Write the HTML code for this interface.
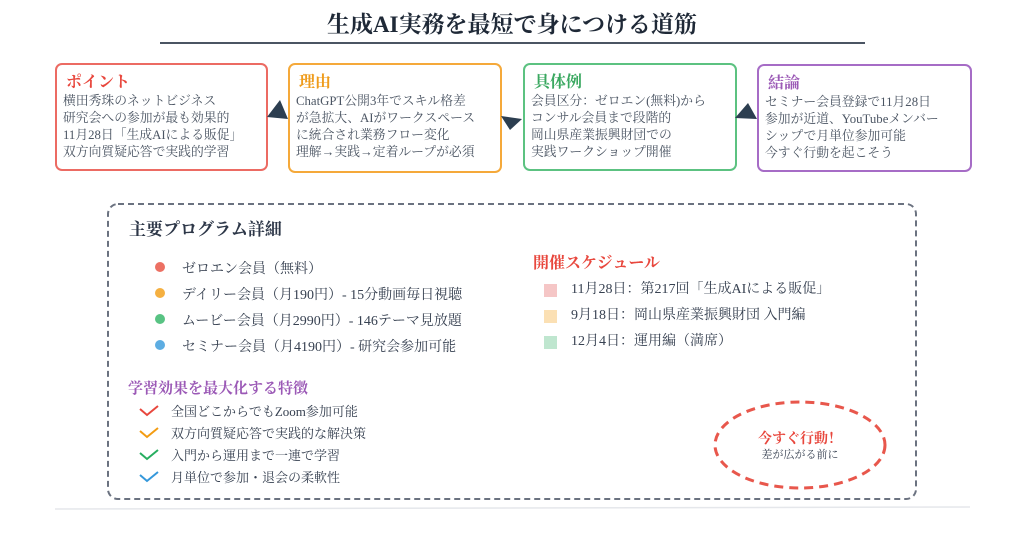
<!DOCTYPE html>
<html><head><meta charset="utf-8"><style>
body{margin:0;width:1024px;height:533px;background:#fff;position:relative;overflow:hidden;font-family:"Liberation Serif","Noto Serif CJK SC",serif;color:#374151}
.a{position:absolute;white-space:nowrap}
.box{position:absolute;border:2px solid;border-radius:7px;background:#fff}
.box .t{position:absolute;left:9px;top:4px;font-size:16px;font-weight:bold}
.box .b{position:absolute;left:6px;top:28px;font-size:12.8px;line-height:17px;color:#4b5563}
.dot{position:absolute;width:10px;height:10px;border-radius:50%}
.sq{position:absolute;width:13px;height:13px}
</style></head><body>
<div class="a" style="left:0;width:1024px;text-align:center;top:6px;font-size:23px;font-weight:bold;color:#1f2937">生成AI実務を最短で身につける道筋</div>
<div class="a" style="left:160px;top:42px;width:705px;height:2px;background:#4b5563"></div>

<div class="box" style="left:55px;top:63px;width:209px;height:104px;border-color:#ec6b63"><div class="t" style="color:#e8473d">ポイント</div><div class="b">横田秀珠のネットビジネス<br>研究会への参加が最も効果的<br>11月28日「生成AIによる販促」<br>双方向質疑応答で実践的学習</div></div>
<div class="box" style="left:288px;top:63px;width:210px;height:106px;border-color:#f5a93a"><div class="t" style="color:#ef9c1c">理由</div><div class="b">ChatGPT公開3年でスキル格差<br>が急拡大、AIがワークスペース<br>に統合され業務フロー変化<br>理解→実践→定着ループが必須</div></div>
<div class="box" style="left:523px;top:63px;width:210px;height:104px;border-color:#5cc281"><div class="t" style="color:#3aa860">具体例</div><div class="b">会員区分：ゼロエン(無料)から<br>コンサル会員まで段階的<br>岡山県産業振興財団での<br>実践ワークショップ開催</div></div>
<div class="box" style="left:757px;top:64px;width:211px;height:104px;border-color:#a66cc6"><div class="t" style="color:#9b59b6">結論</div><div class="b">セミナー会員登録で11月28日<br>参加が近道、YouTubeメンバー<br>シップで月単位参加可能<br>今すぐ行動を起こそう</div></div>

<svg class="a" style="left:0;top:0" width="1024" height="533">
<polygon points="267,117 288,119 280,100" fill="#2c3e50"/>
<polygon points="501,116 522,119 510,130" fill="#2c3e50"/>
<polygon points="735,118 757,119 748,103" fill="#2c3e50"/>
<rect x="108" y="204" width="808" height="295" rx="10" fill="none" stroke="#6b7280" stroke-width="2" stroke-dasharray="6,4"/>
<ellipse cx="800" cy="445" rx="85" ry="43" fill="none" stroke="#e8574c" stroke-width="3" stroke-dasharray="9,6"/>
<line x1="55" y1="509" x2="970" y2="507" stroke="#e5e7eb" stroke-width="1.5"/>
<g fill="none" stroke-width="2">
<polyline points="140,409 147,415 158,406" stroke="#e8473d"/>
<polyline points="140,431 147,437 158,428" stroke="#f39c12"/>
<polyline points="140,453 147,459 158,450" stroke="#27ae60"/>
<polyline points="140,475 147,481 158,472" stroke="#3498db"/>
</g>
</svg>

<div class="a" style="left:129px;top:215px;font-size:17px;font-weight:bold;color:#2d3748">主要プログラム詳細</div>
<div class="dot" style="left:155px;top:262px;background:#ec7063"></div>
<div class="dot" style="left:155px;top:288px;background:#f5b041"></div>
<div class="dot" style="left:155px;top:314px;background:#58c383"></div>
<div class="dot" style="left:155px;top:340px;background:#5dade2"></div>
<div class="a" style="left:182px;top:257px;font-size:14px;line-height:26px;color:#374151">ゼロエン会員（無料）<br>デイリー会員（月190円）- 15分動画毎日視聴<br>ムービー会員（月2990円）- 146テーマ見放題<br>セミナー会員（月4190円）- 研究会参加可能</div>
<div class="a" style="left:128px;top:377px;font-size:15px;font-weight:bold;color:#9b59b6">学習効果を最大化する特徴</div>
<div class="a" style="left:171px;top:401px;font-size:13px;line-height:22px;color:#374151">全国どこからでもZoom参加可能<br>双方向質疑応答で実践的な解決策<br>入門から運用まで一連で学習<br>月単位で参加・退会の柔軟性</div>

<div class="a" style="left:533px;top:250px;font-size:16px;font-weight:bold;color:#e8473d">開催スケジュール</div>
<div class="sq" style="left:544px;top:284px;background:#f5c6c6"></div>
<div class="sq" style="left:544px;top:310px;background:#fbe0b4"></div>
<div class="sq" style="left:544px;top:336px;background:#bfe6cf"></div>
<div class="a" style="left:571px;top:277px;font-size:14px;line-height:26px;color:#374151">11月28日：第217回「生成AIによる販促」<br>9月18日：岡山県産業振興財団 入門編<br>12月4日：運用編（満席）</div>

<div class="a" style="left:715px;top:428px;width:170px;text-align:center;font-size:14px;font-weight:bold;color:#e8473d">今すぐ行動！</div>
<div class="a" style="left:715px;top:446px;width:170px;text-align:center;font-size:11px;color:#374151">差が広がる前に</div>
</body></html>
